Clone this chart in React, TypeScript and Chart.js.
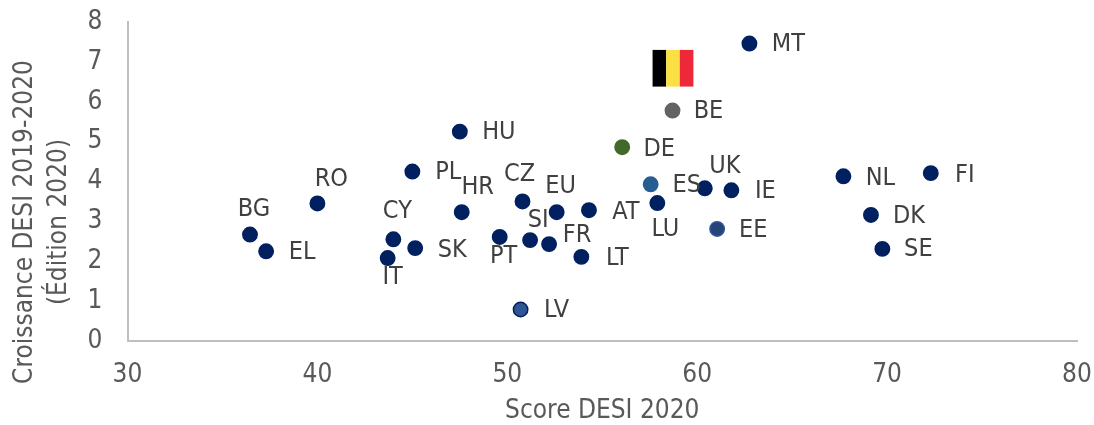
import React, { useEffect, useRef } from "react";
import { Chart, registerables } from "chart.js";

Chart.register(...registerables);

const FONT = "'DejaVu Sans Condensed', 'DejaVu Sans', sans-serif";

const countries = ["MT","BE","DE","HU","PL","RO","BG","EL","CY","SK","IT","HR","CZ","EU","AT","PT","SI","FR","LT","LV","ES","LU","UK","IE","EE","NL","FI","DK","SE"];
const scores = [62.75,58.7,56.05,47.5,45.0,40.0,36.45,37.3,44.0,45.15,43.7,47.6,50.8,52.6,54.3,49.6,51.2,52.2,53.9,50.7,57.55,57.9,60.4,61.8,61.05,67.7,72.3,69.15,69.75];
const growth = [7.46,5.78,4.86,5.25,4.25,3.45,2.67,2.25,2.55,2.33,2.08,3.23,3.5,3.23,3.28,2.61,2.53,2.43,2.11,0.79,3.93,3.46,3.83,3.78,2.81,4.13,4.21,3.16,2.31];
const yTitleLines = ["Croissance DESI 2019-2020", "(Édition 2020)"];

const DARK = "#002060";
const fills: Record<string, string> = { BE: "#636363", DE: "#43682b", ES: "#255e91", EE: "#264478", LV: "#2f5597" };
const borders: Record<string, string> = { BE: "#636363", DE: "#43682b", ES: "#255e91", EE: "#2f5597", LV: DARK };

const labelOffsets: Record<string, [number, number]> = {
  MT:[39,1],BE:[36,1],DE:[37,2],HU:[39,1],PL:[36,1],RO:[14,-24],BG:[4,-25],EL:[36,1],CY:[4,-28],SK:[37,2],IT:[5,19],
  HR:[16,-25],CZ:[-3,-27],EU:[4,-26],AT:[37,2],PT:[4,20],SI:[8,-20],FR:[28,-9],LT:[36,2],LV:[36,1],ES:[36,1],
  LU:[8,26],UK:[20,-22],IE:[34,1],EE:[36,2],NL:[37,2],FI:[34,2],DK:[38,2],SE:[36,1],
};

const flagColors = ["#000000", "#fae042", "#ed2939"];
const flagXRange = [57.65, 59.8];
const flagYRange = [6.38, 7.3];

const overlay = {
  id: "overlay",
  afterDatasetsDraw(chart: any) {
    const { ctx, scales } = chart;
    const x0 = scales.x.getPixelForValue(flagXRange[0]);
    const x1 = scales.x.getPixelForValue(flagXRange[1]);
    const y0 = scales.y.getPixelForValue(flagYRange[1]);
    const y1 = scales.y.getPixelForValue(flagYRange[0]);
    const w = (x1 - x0) / 3;
    ctx.save();
    flagColors.forEach((c, i) => {
      ctx.fillStyle = c;
      ctx.fillRect(x0 + i * w, y0, w, y1 - y0);
    });
    ctx.font = `25px ${FONT}`;
    ctx.fillStyle = "#404040";
    ctx.textAlign = "center";
    ctx.textBaseline = "middle";
    countries.forEach((c, i) => {
      const [dx, dy] = labelOffsets[c];
      ctx.fillText(c, scales.x.getPixelForValue(scores[i]) + dx, scales.y.getPixelForValue(growth[i]) + dy);
    });
    ctx.font = `26px ${FONT}`;
    ctx.fillStyle = "#595959";
    yTitleLines.forEach((line, i) => {
      ctx.save();
      ctx.translate(25 + i * 34, 222);
      ctx.rotate(-Math.PI / 2);
      ctx.fillText(line, 0, 0);
      ctx.restore();
    });
    ctx.restore();
  },
};

export default function App() {
  const ref = useRef<HTMLCanvasElement>(null);
  useEffect(() => {
    const chart = new Chart(ref.current!, {
      type: "scatter",
      data: {
        datasets: [{
          data: scores.map((x, i) => ({ x, y: growth[i] })),
          backgroundColor: countries.map((c) => fills[c] ?? DARK),
          borderColor: countries.map((c) => borders[c] ?? DARK),
          borderWidth: 1.5,
          pointRadius: 7.2,
          pointHoverRadius: 7.2,
        }],
      },
      plugins: [overlay],
      options: {
        animation: false,
        responsive: false,
        layout: { padding: { top: 22, right: 17, left: 10, bottom: 0 } },
        plugins: { legend: { display: false }, tooltip: { enabled: false } },
        scales: {
          x: {
            type: "linear", min: 30, max: 80,
            afterFit(s: any) { s.height = 84; s.paddingLeft = 0; s.paddingRight = 0; },
            grid: { display: false, drawTicks: false },
            border: { color: "#bfbfbf", width: 2 },
            ticks: { stepSize: 10, padding: 19, color: "#595959", font: { family: FONT, size: 26 } },
            title: { display: true, text: "Score DESI 2020", color: "#595959", font: { family: FONT, size: 26 }, padding: { top: 0, bottom: -2 } },
          },
          y: {
            type: "linear", min: 0, max: 8,
            afterFit(s: any) { s.width = 117.5; s.paddingTop = 0; s.paddingBottom = 0; },
            grid: { display: false, drawTicks: false },
            border: { color: "#bfbfbf", width: 2 },
            ticks: { stepSize: 1, padding: 25, color: "#595959", font: { family: FONT, size: 26 } },
          },
        },
      },
    });
    return () => chart.destroy();
  }, []);
  return (
    <div style={{ position: "absolute", left: 0, top: 0, width: 1094, height: 425 }}>
      <canvas ref={ref} width={1094} height={425} style={{ display: "block" }} />
    </div>
  );
}
